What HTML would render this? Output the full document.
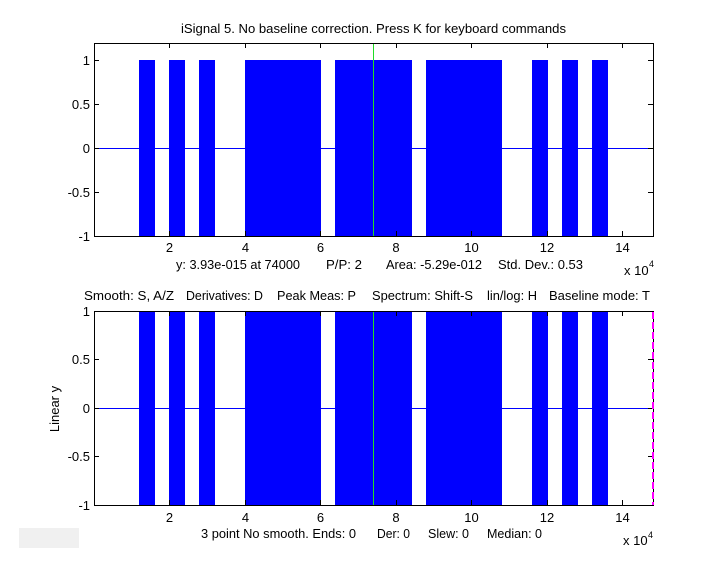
<!DOCTYPE html>
<html><head><meta charset="utf-8"><style>
html,body{margin:0;padding:0;background:#fff;}
svg{display:block;}
text{font-family:"Liberation Sans",Arial,sans-serif;font-size:13px;fill:#000;}
</style></head><body>
<svg width="722" height="567" viewBox="0 0 722 567" xmlns="http://www.w3.org/2000/svg" shape-rendering="crispEdges">
<rect x="0" y="0" width="722" height="567" fill="#fff"/>

<!-- ===== TOP PLOT ===== -->
<g fill="#0000ff">
<rect x="139" y="60" width="16" height="176"/>
<rect x="169" y="60" width="16" height="176"/>
<rect x="199" y="60" width="16" height="176"/>
<rect x="245" y="60" width="76" height="176"/>
<rect x="335" y="60" width="77" height="176"/>
<rect x="426" y="60" width="76" height="176"/>
<rect x="532" y="60" width="16" height="176"/>
<rect x="562" y="60" width="16" height="176"/>
<rect x="592" y="60" width="16" height="176"/>
</g>
<line x1="94" y1="148.5" x2="653" y2="148.5" stroke="#0000ff" stroke-width="1"/>
<line x1="373.5" y1="43" x2="373.5" y2="236" stroke="#22dd22" stroke-width="1"/>
<rect x="94.5" y="43.5" width="559" height="193" fill="none" stroke="#000" stroke-width="1"/>
<g stroke="#000" stroke-width="1">
<!-- x ticks bottom/top -->
<path d="M169.5 236v-5M245.5 236v-5M320.5 236v-5M396.5 236v-5M471.5 236v-5M547.5 236v-5M622.5 236v-5"/>
<path d="M169.5 43v5M245.5 43v5M320.5 43v5M396.5 43v5M471.5 43v5M547.5 43v5M622.5 43v5"/>
<!-- y ticks -->
<path d="M94 60.5h5M94 104.5h5M94 148.5h5M94 192.5h5M94 236.5h5"/>
<path d="M653 60.5h-5M653 104.5h-5M653 148.5h-5M653 192.5h-5M653 236.5h-5"/>
</g>
<g text-anchor="end">
<text x="90" y="65">1</text>
<text x="90" y="109">0.5</text>
<text x="90" y="153">0</text>
<text x="90" y="197">-0.5</text>
<text x="90" y="241">-1</text>
</g>
<g text-anchor="middle">
<text x="169.5" y="252">2</text>
<text x="245.5" y="252">4</text>
<text x="320.5" y="252">6</text>
<text x="396" y="252">8</text>
<text x="471.5" y="252">10</text>
<text x="547" y="252">12</text>
<text x="622.5" y="252">14</text>
</g>
<text x="373.5" y="33" text-anchor="middle" textLength="385" lengthAdjust="spacingAndGlyphs">iSignal 5. No baseline correction.  Press K for keyboard commands</text>
<text x="176" y="269" textLength="124" lengthAdjust="spacingAndGlyphs">y: 3.93e-015 at 74000</text>
<text x="326" y="269" textLength="36" lengthAdjust="spacingAndGlyphs">P/P: 2</text>
<text x="386" y="269" textLength="96" lengthAdjust="spacingAndGlyphs">Area: -5.29e-012</text>
<text x="498" y="269" textLength="85" lengthAdjust="spacingAndGlyphs">Std. Dev.: 0.53</text>
<text x="624" y="275">x 10</text>
<text x="649" y="267" style="font-size:9px">4</text>

<!-- ===== BOTTOM PLOT ===== -->
<g fill="#0000ff">
<rect x="139" y="311" width="16" height="194"/>
<rect x="169" y="311" width="16" height="194"/>
<rect x="199" y="311" width="16" height="194"/>
<rect x="245" y="311" width="76" height="194"/>
<rect x="335" y="311" width="77" height="194"/>
<rect x="426" y="311" width="76" height="194"/>
<rect x="532" y="311" width="16" height="194"/>
<rect x="562" y="311" width="16" height="194"/>
<rect x="592" y="311" width="16" height="194"/>
</g>
<line x1="94" y1="408.5" x2="653" y2="408.5" stroke="#0000ff" stroke-width="1"/>
<line x1="373.5" y1="311" x2="373.5" y2="505" stroke="#22dd22" stroke-width="1"/>
<rect x="94.5" y="311.5" width="559" height="194" fill="none" stroke="#000" stroke-width="1"/>
<g stroke="#000" stroke-width="1">
<path d="M169.5 505v-5M245.5 505v-5M320.5 505v-5M396.5 505v-5M471.5 505v-5M547.5 505v-5M622.5 505v-5"/>
<path d="M169.5 311v5M245.5 311v5M320.5 311v5M396.5 311v5M471.5 311v5M547.5 311v5M622.5 311v5"/>
<path d="M94 311.5h5M94 359.5h5M94 408.5h5M94 456.5h5M94 505.5h5"/>
<path d="M653 311.5h-5M653 359.5h-5M653 408.5h-5M653 456.5h-5M653 505.5h-5"/>
</g>
<line x1="653" y1="312" x2="653" y2="505" stroke="#ff00ff" stroke-width="2" stroke-dasharray="7,3" shape-rendering="auto"/>
<g text-anchor="end">
<text x="90" y="316">1</text>
<text x="90" y="364">0.5</text>
<text x="90" y="413">0</text>
<text x="90" y="461">-0.5</text>
<text x="90" y="510">-1</text>
</g>
<g text-anchor="middle">
<text x="169.5" y="522">2</text>
<text x="245.5" y="522">4</text>
<text x="320.5" y="522">6</text>
<text x="396" y="522">8</text>
<text x="471.5" y="522">10</text>
<text x="547" y="522">12</text>
<text x="622.5" y="522">14</text>
</g>
<text x="84" y="300" textLength="90" lengthAdjust="spacingAndGlyphs">Smooth: S, A/Z</text>
<text x="186" y="300" textLength="77" lengthAdjust="spacingAndGlyphs">Derivatives: D</text>
<text x="277" y="300" textLength="79" lengthAdjust="spacingAndGlyphs">Peak Meas: P</text>
<text x="372" y="300" textLength="101" lengthAdjust="spacingAndGlyphs">Spectrum: Shift-S</text>
<text x="487" y="300" textLength="50" lengthAdjust="spacingAndGlyphs">lin/log: H</text>
<text x="549" y="300" textLength="101" lengthAdjust="spacingAndGlyphs">Baseline mode: T</text>
<text transform="translate(59,409) rotate(-90)" text-anchor="middle">Linear y</text>
<text x="201" y="538" textLength="155" lengthAdjust="spacingAndGlyphs">3 point No smooth. Ends: 0</text>
<text x="377" y="538" textLength="33" lengthAdjust="spacingAndGlyphs">Der: 0</text>
<text x="428" y="538" textLength="41" lengthAdjust="spacingAndGlyphs">Slew: 0</text>
<text x="487" y="538" textLength="55" lengthAdjust="spacingAndGlyphs">Median: 0</text>
<text x="623" y="545">x 10</text>
<text x="648" y="538" style="font-size:9px">4</text>

<rect x="19" y="528" width="60" height="20" fill="#f0f0f0"/>
</svg>
</body></html>
